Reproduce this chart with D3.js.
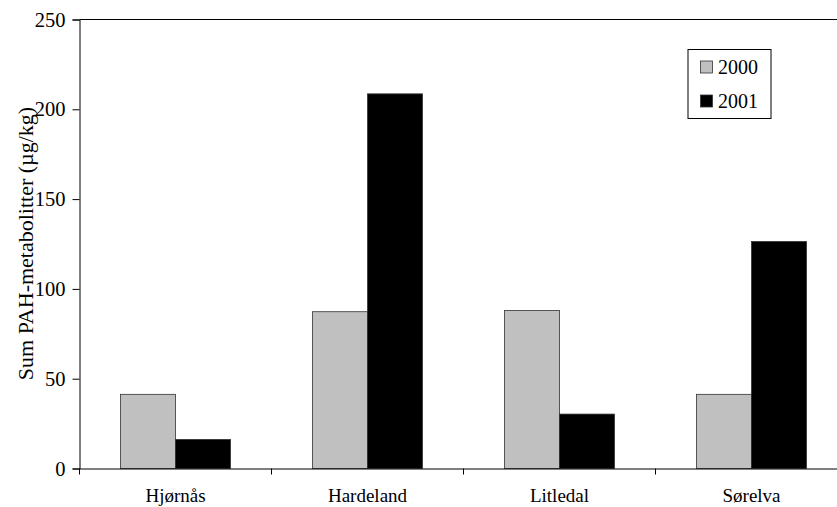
<!DOCTYPE html>
<html>
<head>
<meta charset="utf-8">
<script src="https://cdn.jsdelivr.net/npm/d3@7"></script>
<style>
  html, body { margin: 0; padding: 0; background: #fff; }
  svg { display: block; }
  svg text { font-family: "Liberation Serif", "Times New Roman", "DejaVu Serif", serif; fill: #000; }
</style>
</head>
<body>
<svg id="chart" width="837" height="507"></svg>
<script>
const categories = ["Hjørnås", "Hardeland", "Litledal", "Sørelva"];
const seriesNames = ["2000", "2001"];
const values2000 = [41.3, 87.3, 88, 41.3];
const values2001 = [16.2, 208.6, 30.3, 126.4];
const yTicks = [0, 50, 100, 150, 200, 250];
const yLabel = "Sum PAH-metabolitter (µg/kg)";
const colors = ["#c0c0c0", "#000000"];

(function () {
const svg = d3.select("#chart");
const plotLeft = 79.5, plotTop = 19.5, plotW = 768, plotBottom = 468.5;

const x = d3.scaleBand().domain(categories).range([plotLeft, plotLeft + plotW]).paddingInner(0).paddingOuter(0);
const barW = x.bandwidth() * 110 / 192;
const xs = d3.scaleBand().domain(seriesNames).range([0, barW]);
const y = d3.scaleLinear().domain([0, 250]).range([plotBottom, plotTop]);

const series = [values2000, values2001];

// plot frame (top border; right side lies beyond the image)
svg.append("line").attr("x1", plotLeft).attr("x2", plotLeft + plotW).attr("y1", plotTop).attr("y2", plotTop)
  .attr("stroke", "#000").attr("stroke-width", 1);

// bars
seriesNames.forEach((s, si) => {
  svg.append("g").selectAll("rect").data(categories).join("rect")
    .attr("x", d => x(d) + (x.bandwidth() - barW) / 2 + xs(s))
    .attr("y", (d, i) => y(series[si][i]))
    .attr("width", xs.bandwidth())
    .attr("height", (d, i) => plotBottom - y(series[si][i]))
    .attr("fill", colors[si])
    .attr("stroke", "#333")
    .attr("stroke-width", 0.8);
});

// y axis
const yAxis = d3.axisLeft(y).tickValues(yTicks).tickSize(7).tickPadding(7).tickFormat(d3.format("d"));
const gy = svg.append("g").attr("transform", `translate(${plotLeft},0)`).call(yAxis);
gy.attr("font-family", null);
gy.select(".domain").attr("stroke", "#000");
gy.selectAll(".tick line").attr("stroke", "#000");
gy.selectAll(".tick text").style("font-size", "20.5px");

// x axis
const xAxis = d3.axisBottom(x).tickSize(0).tickPadding(20);
const gx = svg.append("g").attr("transform", `translate(0,${plotBottom})`).call(xAxis);
gx.attr("font-family", null);
gx.select(".domain").attr("stroke", "#000");
gx.selectAll(".tick text").style("font-size", "19px");
// category boundary ticks
gx.selectAll(".bnd").data(categories).join("line").attr("class", "bnd")
  .attr("x1", d => x(d)).attr("x2", d => x(d)).attr("y1", 0).attr("y2", 6)
  .attr("stroke", "#000");

// y label
svg.append("text")
  .attr("transform", `translate(33,243.5) rotate(-90)`)
  .attr("text-anchor", "middle")
  .style("font-size", "22px")
  .text(yLabel);

// legend
const lg = svg.append("g");
lg.append("rect").attr("x", 688).attr("y", 49.5).attr("width", 83).attr("height", 69)
  .attr("fill", "#fff").attr("stroke", "#000").attr("stroke-width", 1);
seriesNames.forEach((s, i) => {
  const yy = 61 + i * 34;
  lg.append("rect").attr("x", 700.5).attr("y", yy).attr("width", 12).attr("height", 12)
    .attr("fill", colors[i]).attr("stroke", "#333").attr("stroke-width", 0.8);
  lg.append("text").attr("x", 718).attr("y", yy + 12.5).style("font-size", "20px").text(s);
});
})();
</script>
</body>
</html>
